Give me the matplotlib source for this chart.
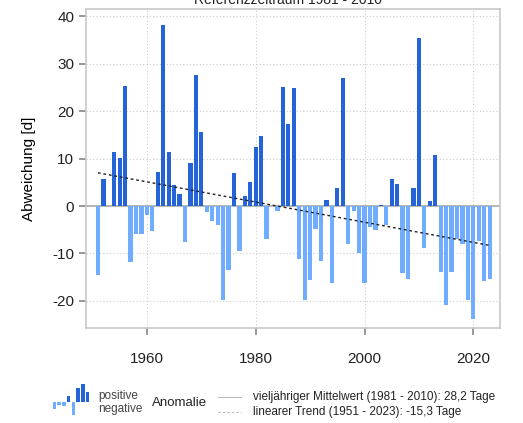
import numpy as np
import matplotlib.pyplot as plt

plt.rcParams['font.family'] = ['Liberation Sans', 'DejaVu Sans']
plt.rcParams['axes.unicode_minus'] = False

# Jahre und Abweichungen in Tagen
years = np.arange(1951, 2024)
anomaly = [-14.6, 5.6, 0.0, 11.4, 10.2, 25.3, -11.9, -5.9, -6.0, -1.9,
           -5.3, 7.2, 38.2, 11.4, 4.4, 2.5, -7.6, 9.0, 27.5, 15.6,
           -1.3, -3.2, -3.9, -19.9, -13.5, 6.9, -9.5, 2.2, 5.0, 12.4,
           14.8, -7.0, 0.0, -1.0, 25.1, 17.2, 24.8, -11.1, -19.9, -15.5,
           -4.9, -11.6, 1.3, -16.2, 3.7, 26.9, -8.0, -1.1, -9.9, -16.2,
           -4.4, -5.0, 0.2, -4.1, 5.6, 4.6, -14.1, -15.4, 3.7, 35.4,
           -8.8, 1.1, 10.8, -13.8, -20.8, -13.8, -6.9, -7.9, -19.9, -23.8,
           -7.4, -15.8, -15.4]
trend_years = [1951, 2023]
trend_vals = [7.0, -8.3]

# Legenden-Symbol
icon_vals = [-6, -3, -4, 6, -12, 13, 17, 10]

pos_col = '#2563d9'
neg_col = '#70acff'

anomaly = np.array(anomaly)
colors = [pos_col if v > 0 else neg_col for v in anomaly]

fig = plt.figure(figsize=(5.23, 4.23), dpi=100)
ax = fig.add_axes([0.1644, 0.2246, 0.7916, 0.754])

ax.axhline(0, color='#aaaaaa', lw=1.2, zorder=1)
ax.bar(years, anomaly, width=0.78, color=colors, edgecolor='none', zorder=2)
ax.plot(trend_years, trend_vals, color='#222222', lw=1.0, ls=(0, (2, 2)), zorder=3)

ax.set_xlim(1948.8, 2024.9)
ax.set_ylim(-25.7, 41.5)
ax.set_xticks([1960, 1980, 2000, 2020])
ax.set_yticks([-20, -10, 0, 10, 20, 30, 40])
ax.grid(True, color='#cccccc', ls=(0, (1, 2)), lw=0.8)
ax.set_axisbelow(True)
for s in ax.spines.values():
    s.set_color('#c8c8c8')
    s.set_linewidth(1.2)
ax.tick_params(axis='both', colors='#888888', labelcolor='#222222', labelsize=11,
               length=5, width=1.2)
ax.tick_params(axis='x', pad=12)
ax.set_ylabel('Abweichung [d]', fontsize=11, labelpad=12)

fig.text(0.55, 1.0, 'Referenzzeitraum 1981 - 2010', ha='center', va='center',
         fontsize=10, color='#222222')

# Legende
lax = fig.add_axes([52 / 523, 1 - 416 / 423, 38 / 523, 33 / 423])
lax.bar(np.arange(len(icon_vals)), icon_vals, width=0.7,
        color=[pos_col if v > 0 else neg_col for v in icon_vals])
lax.set_xlim(-0.5, len(icon_vals) - 0.5)
lax.set_ylim(-13, 18)
lax.axis('off')

fig.text(98 / 523, 1 - 396 / 423, 'positive', fontsize=8.5, color='#444444', va='center')
fig.text(98 / 523, 1 - 409 / 423, 'negative', fontsize=8.5, color='#444444', va='center')
fig.text(152 / 523, 1 - 403 / 423, 'Anomalie', fontsize=9.5, color='#222222', va='center')
fig.add_artist(plt.Line2D([218 / 523, 241 / 523], [1 - 397 / 423] * 2, color='#bbbbbb', lw=0.8))
fig.add_artist(plt.Line2D([218 / 523, 241 / 523], [1 - 412 / 423] * 2, color='#bbbbbb', lw=0.8,
                          ls=(0, (2, 2))))
fig.text(253 / 523, 1 - 397 / 423, 'vieljähriger Mittelwert (1981 - 2010): 28,2 Tage',
         fontsize=8.5, color='#222222', va='center')
fig.text(253 / 523, 1 - 412 / 423, 'linearer Trend (1951 - 2023): -15,3 Tage',
         fontsize=8.5, color='#222222', va='center')

fig.savefig('out.png', dpi=100)
